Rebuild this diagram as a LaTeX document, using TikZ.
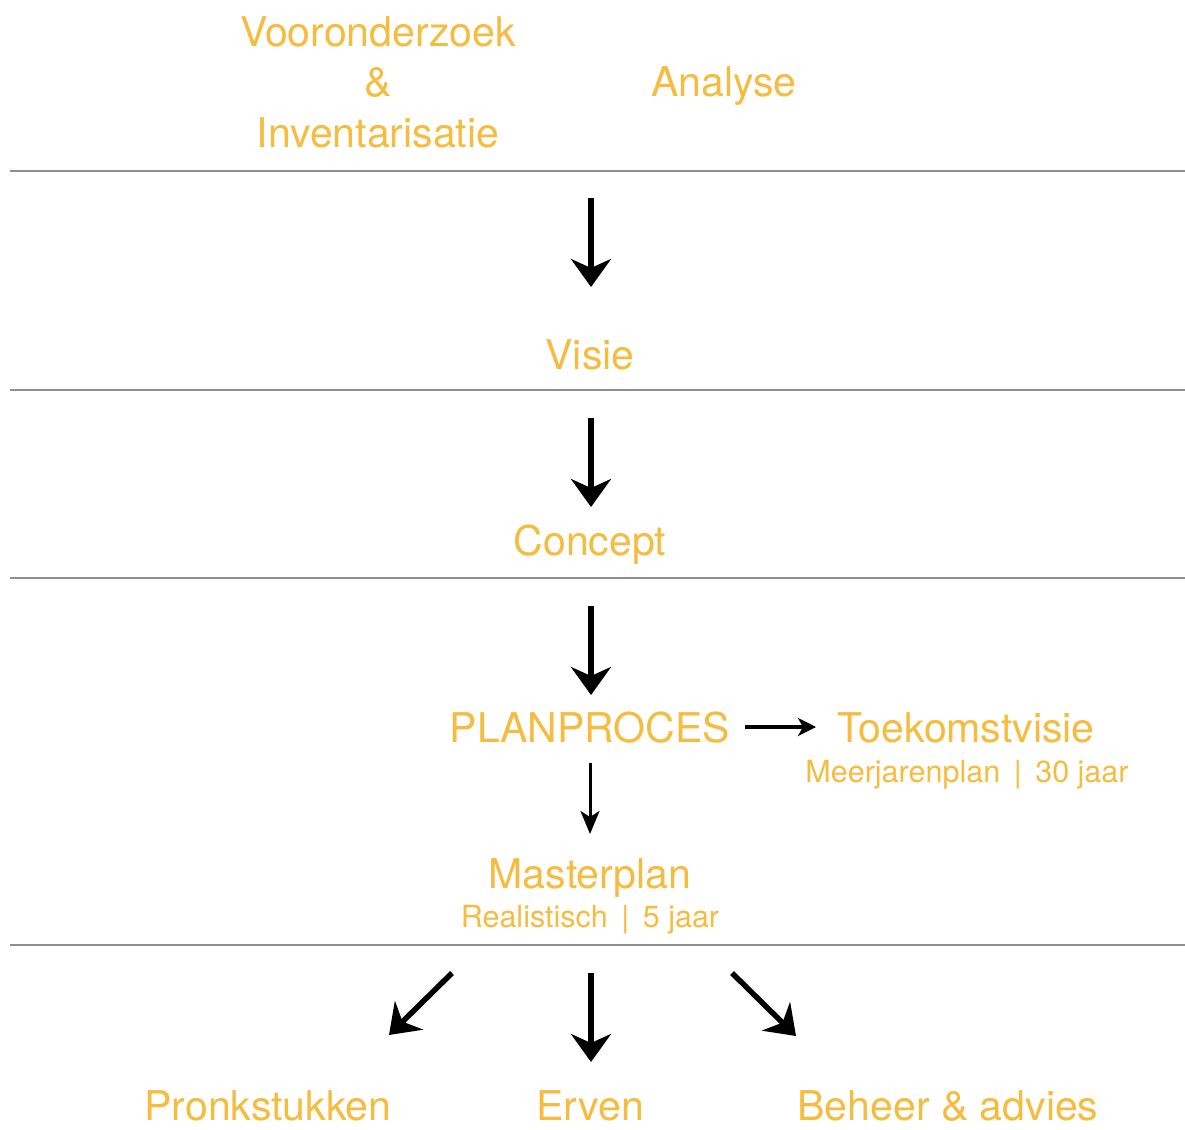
\documentclass[tikz,border=0pt]{standalone}
\usepackage{fontspec}
\setmainfont{TeX Gyre Heros}
\usetikzlibrary{arrows.meta}
\definecolor{labelorange}{HTML}{F6BC3F}
\definecolor{rulegrey}{HTML}{8E8E8E}
\begin{document}
\begin{tikzpicture}[x=1pt,y=-1pt,
  big/.style={text=labelorange,font=\fontsize{41}{41}\selectfont,anchor=base,inner sep=0pt},
  small/.style={text=labelorange,font=\fontsize{30.5}{30.5}\selectfont,anchor=base,inner sep=0pt},
  rulelinestyle/.style={draw=rulegrey,line width=1.3pt},
  fatarrow/.style={line width=5.5pt,-{Stealth[length=28pt,width=40pt,inset=9pt]}},
  thinarrow/.style={line width=3pt,-{Stealth[length=23pt,width=19pt,inset=6pt]}},
  midarrow/.style={line width=4pt,-{Stealth[length=18pt,width=18pt,inset=5pt]}}]
\useasboundingbox (0,0) rectangle (1185,1129);
\fill[white] (0,0) rectangle (1185,1129);
% rules
\coordinate (r1a) at (10,171); \coordinate (r1b) at (1185,171);
\coordinate (r2a) at (10,390); \coordinate (r2b) at (1185,390);
\coordinate (r3a) at (10,578); \coordinate (r3b) at (1185,578);
\coordinate (r4a) at (10,945); \coordinate (r4b) at (1185,945);
\draw[rulelinestyle] (r1a) -- (r1b);
\draw[rulelinestyle] (r2a) -- (r2b);
\draw[rulelinestyle] (r3a) -- (r3b);
\draw[rulelinestyle] (r4a) -- (r4b);
% texts
\node[big] (voor) at (378,47) {Vooronderzoek};
\node[big] (amp) at (378,97) {\&};
\node[big] (inv) at (378,147) {Inventarisatie};
\node[big] (ana) at (724,97) {Analyse};
\node[big] (visie) at (590,369) {Visie};
\node[big] (concept) at (590,555) {Concept};
\node[big] (plan) at (590,742) {PLANPROCES};
\node[big] (toek) at (966,742) {Toekomstvisie};
\node[small] (meer) at (967,782) {Meerjarenplan \,|\, 30 jaar};
\node[big] (master) at (590,888) {Masterplan};
\node[small] (real) at (590,927) {Realistisch \,|\, 5 jaar};
\node[big] (pronk) at (268,1120) {Pronkstukken};
\node[big] (erven) at (590,1120) {Erven};
\node[big] (beheer) at (948,1120) {Beheer \& advies};
% arrow end points
\coordinate (a1s) at (591,198); \coordinate (a1e) at (591,287);
\coordinate (a2s) at (591,418); \coordinate (a2e) at (591,507);
\coordinate (a3s) at (591,606); \coordinate (a3e) at (591,695);
\coordinate (hs) at (745,727); \coordinate (he) at (816,727);
\coordinate (ts) at (590,763); \coordinate (te) at (590,834);
\coordinate (l1s) at (452,973); \coordinate (l1e) at (389,1035);
\coordinate (l2s) at (591,973); \coordinate (l2e) at (591,1062);
\coordinate (l3s) at (732,973); \coordinate (l3e) at (796,1036);
\draw[fatarrow] (a1s) -- (a1e);
\draw[fatarrow] (a2s) -- (a2e);
\draw[fatarrow] (a3s) -- (a3e);
\draw[midarrow] (hs) -- (he);
\draw[thinarrow] (ts) -- (te);
\draw[fatarrow] (l1s) -- (l1e);
\draw[fatarrow] (l2s) -- (l2e);
\draw[fatarrow] (l3s) -- (l3e);
\end{tikzpicture}
\end{document}
